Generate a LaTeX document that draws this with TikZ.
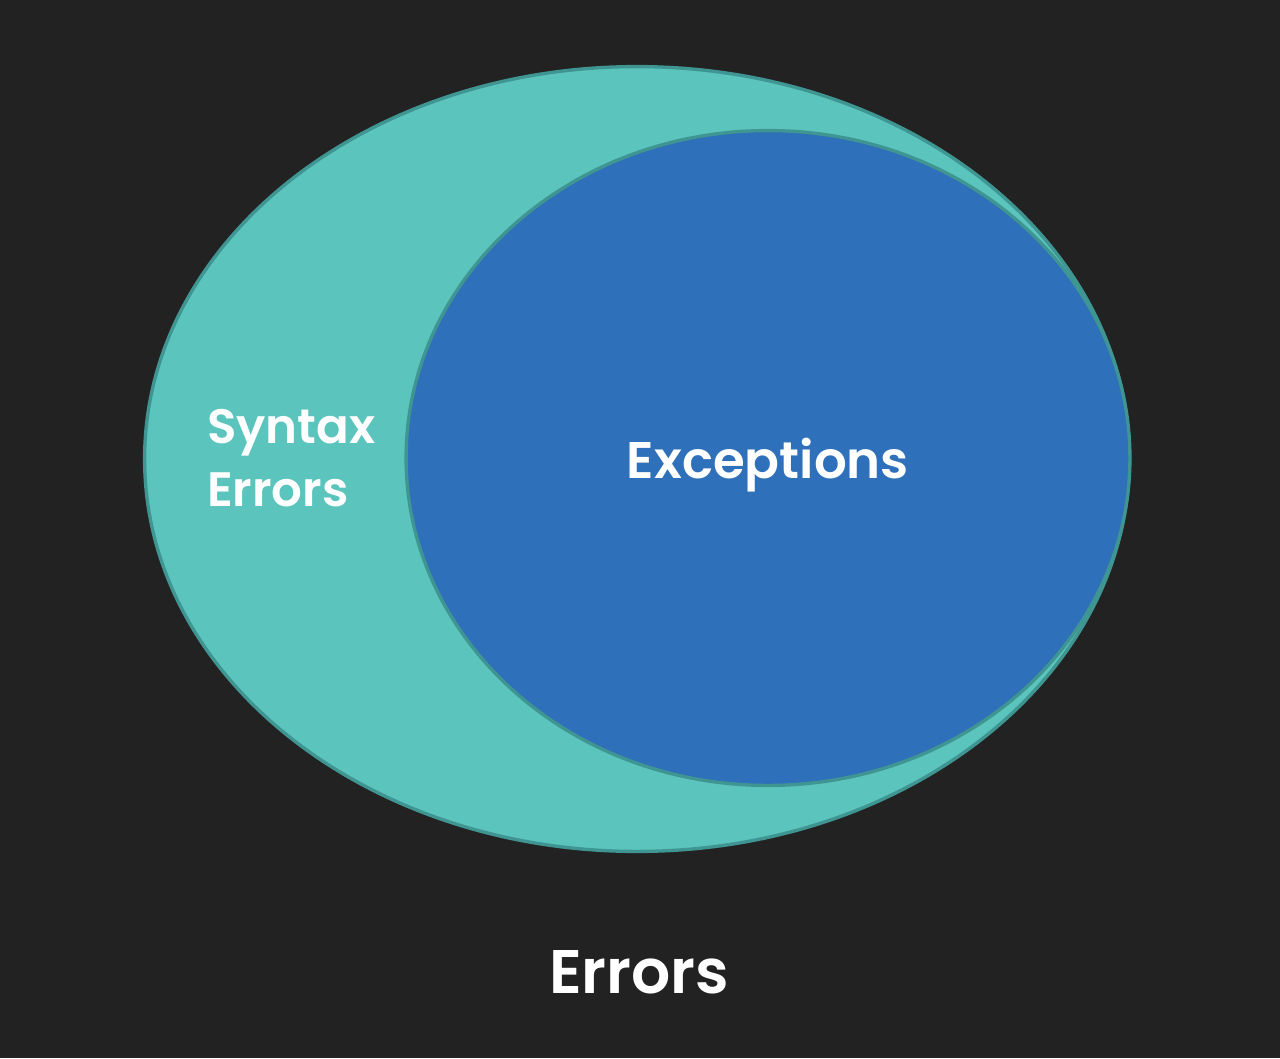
\documentclass[tikz,border=0pt]{standalone}
\usepackage{fontspec}
\setmainfont{Poppins}[BoldFont={* SemiBold}]
\usetikzlibrary{shapes.geometric}
\definecolor{bgdark}{HTML}{222222}
\definecolor{setteal}{HTML}{5BC4BC}
\definecolor{setblue}{HTML}{2E70B9}
\definecolor{rimteal}{HTML}{3F9591}

\begin{document}
\begin{tikzpicture}[x=0.02cm, y=-0.02cm,
  setring/.style={ellipse, draw=rimteal, line width=1.9pt, inner sep=0pt},
  lbl/.style={text=white, font=\bfseries}]
  \fill[bgdark] (0,0) rectangle (1280,1058);
  \useasboundingbox (0,0) rectangle (1280,1058);
  \node[setring, fill=setteal, minimum width=19.7cm, minimum height=15.7cm] (errors) at (637,459) {};
  \node[setring, fill=setblue, minimum width=14.48cm, minimum height=13.1cm] (exceptions) at (768,458) {};
  \node[lbl, font=\fontsize{29.3}{36}\bfseries, anchor=center] (exc) at (768,465) {Exceptions};
  \node[lbl, font=\fontsize{27.5}{36}\bfseries, align=left, anchor=west] (syntax) at (201,458) {Syntax\\Errors};
  \node[lbl, font=\fontsize{35}{42}\bfseries] (title) at (639,972) {Errors};
\end{tikzpicture}
\end{document}
